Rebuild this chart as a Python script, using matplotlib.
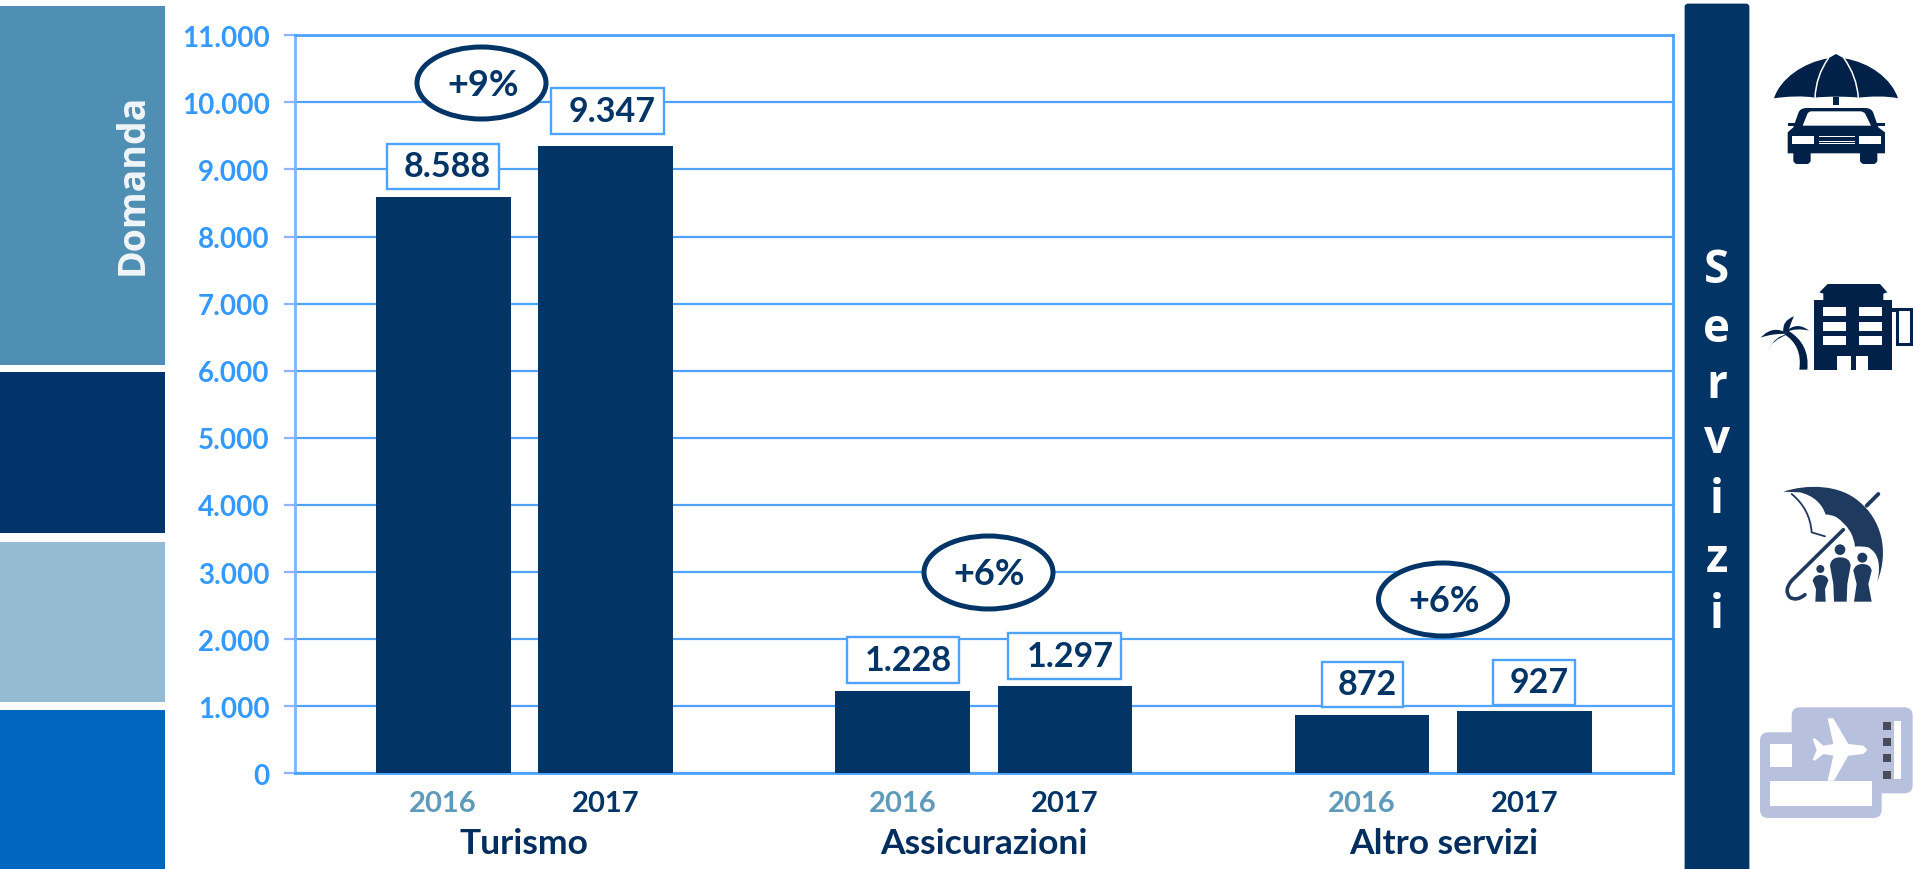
import numpy as np
import matplotlib
matplotlib.use('Agg')
import matplotlib.pyplot as plt
from matplotlib.path import Path
from matplotlib.patches import PathPatch, Rectangle, Ellipse, Circle, FancyBboxPatch
from matplotlib.ticker import FuncFormatter

categories = ['Turismo', 'Assicurazioni', 'Altro servizi']
years = ['2016', '2017']
values_2016 = [8588, 1228, 872]
values_2017 = [9347, 1297, 927]
growth_labels = ['+9%', '+6%', '+6%']
y_ticks = list(range(0, 12000, 1000))

NAVY = '#023466'
GRID_BLUE = '#4DA3FF'
TICK_BLUE = '#3399FF'
ICON_DARK = '#012148'
ICON_MID = '#1F3A5F'
ICON_LIGHT = '#B7C1DD'
W, H = 1913, 870

plt.rcParams['font.family'] = ['Lato', 'DejaVu Sans']
plt.rcParams['font.weight'] = 'bold'


def dots(n):
    return f'{int(n):,}'.replace(',', '.')


fig = plt.figure(figsize=(W / 100, H / 100), dpi=100, facecolor='white')

# Main chart, placed by pixel box of the plot area
left, right, top, bottom = 294.6, 1673, 36.3, 774.3
ax = fig.add_axes([left / W, 1 - bottom / H, (right - left) / W, (bottom - top) / H])
x = np.arange(len(categories))
offset, width = 0.1768, 0.2935
ax.bar(x - offset, values_2016, width, color=NAVY, zorder=3)
ax.bar(x + offset, values_2017, width, color=NAVY, zorder=3)
ax.set_xlim(-0.5, 2.5)
ax.set_ylim(0, 11000)
ax.set_yticks(y_ticks)
ax.yaxis.set_major_formatter(FuncFormatter(lambda v, _: dots(v)))
ax.grid(axis='y', color=GRID_BLUE, linewidth=1.6, zorder=1)
ax.tick_params(axis='y', colors='#8DB4FF', length=8, width=1.6, pad=10, labelsize=20, labelcolor=TICK_BLUE)
ax.tick_params(axis='x', length=0, pad=12, labelsize=21)
ax.set_xticks(np.concatenate([x - offset, x + offset]))
ax.set_xticklabels([years[0]] * 3 + [years[1]] * 3)
for i, lab in enumerate(ax.get_xticklabels()):
    lab.set_color('#5F9ABB' if i < 3 else NAVY)
for s in ax.spines.values():
    s.set_color(GRID_BLUE)
    s.set_linewidth(2)
ax.spines['left'].set_color('#7FB2FF')
for i, name in enumerate(categories):
    ax.text(i, -0.0945, name, transform=ax.get_xaxis_transform(), ha='center', va='center',
            fontsize=25.5, color='#012E5E')

# Everything around the chart is drawn in picture pixels
ov = fig.add_axes([0, 0, 1, 1], zorder=5)
ov.set_xlim(0, W)
ov.set_ylim(H, 0)
ov.set_axis_off()
ov.patch.set_alpha(0)

panels = [(7, 366, '#4F8FB3'), (373, 534, '#02336A'), (543, 703, '#94BBD1'), (711, 870, '#0067C0')]
for y0, y1, col in panels:
    ov.add_patch(Rectangle((0, y0), 165, y1 - y0, color=col, lw=0))
ov.text(133, 184, 'Domanda', rotation=90, ha='center', va='center', fontsize=27, color='#F0F5F8',
        family=['Open Sans', 'DejaVu Sans'])

ov.add_patch(FancyBboxPatch((1686, 6), 62, 870, boxstyle='round,pad=0,rounding_size=2', color=NAVY, lw=2))
for ch, base in zip('Servizi', [283, 342, 398, 453, 513, 572, 628]):
    ov.text(1716.7, base, ch, ha='center', va='baseline', fontsize=33, color='white',
            family=['Open Sans', 'DejaVu Sans'])

# Value labels: x0, x1, y0, y1 of box, then text centre
boxes = [(386.6, 499, 144.7, 190.3, 447, 167), (551, 664, 89, 135, 612, 112.5),
         (846.6, 959, 638, 684, 908, 661.5), (1008.4, 1121.4, 634, 680, 1070.5, 657.5),
         (1321.7, 1403.4, 662.7, 708, 1367.7, 685), (1492.8, 1574.6, 661, 706, 1539, 683.5)]
label_values = [values_2016[0], values_2017[0], values_2016[1], values_2017[1], values_2016[2], values_2017[2]]
for (bx0, bx1, by0, by1, tx, ty), v in zip(boxes, label_values):
    ov.add_patch(Rectangle((bx0, by0), bx1 - bx0, by1 - by0, facecolor='white', edgecolor=GRID_BLUE, lw=1.7))
    ov.text(tx, ty, dots(v), ha='center', va='center', fontsize=24.5, color=NAVY)

rings = [(481.5, 84, 133, 76, 483, 85), (988.5, 573.5, 133, 77, 989.5, 575), (1443, 600.5, 133, 77, 1444.6, 601.5)]
for (ex, ey, ew, eh, tx, ty), lab in zip(rings, growth_labels):
    ov.add_patch(Ellipse((ex, ey), ew - 4, eh - 4, facecolor='white', edgecolor=NAVY, lw=3.6))
    ov.text(tx, ty, lab, ha='center', va='center', fontsize=26, color=NAVY)


# Icons: shapes noted in crop units (3x, from x=1660)
def path(cmds, oy=0):
    verts, codes = [], []
    table = {'M': (Path.MOVETO, 1), 'L': (Path.LINETO, 1), 'Q': (Path.CURVE3, 2), 'C': (Path.CURVE4, 3)}
    for c in cmds:
        code, n = table[c[0]]
        pts = c[1:]
        for k in range(n):
            verts.append((1660 + pts[2 * k] / 3, oy + pts[2 * k + 1] / 3))
            codes.append(code)
    return Path(verts, codes)


def fill(cmds, col, oy=0, close=True):
    if close:
        cmds = cmds + [('L',) + tuple(cmds[0][1:3])]
    ov.add_patch(PathPatch(path(cmds, oy), facecolor=col, edgecolor='none', lw=0))


def stroke(cmds, col, lw, oy=0):
    ov.add_patch(PathPatch(path(cmds, oy), facecolor='none', edgecolor=col, lw=lw, capstyle='round'))


def box(x0, x1, y0, y1, col, oy=0):
    ov.add_patch(Rectangle((1660 + x0 / 3, oy + y0 / 3), (x1 - x0) / 3, (y1 - y0) / 3, color=col, lw=0))


# car under umbrella
fill([('M', 342, 298), ('C', 360, 240, 430, 190, 505, 178), ('L', 528, 165), ('L', 552, 178),
      ('C', 630, 190, 695, 240, 714, 298), ('C', 680, 290, 630, 292, 595, 296),
      ('C', 570, 292, 490, 292, 465, 296), ('C', 430, 290, 380, 292, 342, 298)], ICON_DARK)
stroke([('M', 505, 178), ('Q', 468, 230, 465, 296)], 'white', 1.1)
stroke([('M', 552, 178), ('Q', 590, 230, 595, 296)], 'white', 1.1)
box(520, 537, 295, 318, ICON_DARK)
fill([('M', 383, 400), ('L', 400, 385), ('L', 415, 342), ('Q', 420, 327, 440, 327), ('L', 615, 327),
      ('Q', 635, 327, 640, 342), ('L', 655, 385), ('L', 675, 400), ('L', 675, 463), ('L', 652, 463),
      ('L', 652, 485), ('Q', 650, 495, 640, 495), ('L', 612, 495), ('Q', 602, 495, 600, 485), ('L', 600, 463),
      ('L', 452, 463), ('L', 452, 485), ('Q', 450, 495, 440, 495), ('L', 412, 495), ('Q', 402, 495, 400, 485),
      ('L', 400, 463), ('L', 383, 463)], ICON_DARK)
box(383, 675, 371, 382, ICON_DARK)
fill([('M', 428, 380), ('L', 442, 345), ('Q', 445, 337, 455, 337), ('L', 600, 337), ('Q', 612, 337, 616, 345),
      ('L', 633, 380)], 'white')
box(396, 462, 412, 435, 'white')
box(597, 663, 412, 435, 'white')
for gy in (413, 420, 427, 433):
    box(476, 586, gy - 1, gy + 1, 'white')

# hotel and palm
box(462, 695, 903, 1112, ICON_DARK)
fill([('M', 478, 880), ('L', 503, 855), ('L', 660, 855), ('L', 682, 880), ('L', 670, 884), ('L', 670, 905),
      ('L', 490, 905), ('L', 490, 884)], ICON_DARK)
for wy0, wy1 in ((925, 950), (970, 995), (1012, 1037)):
    box(489, 559, wy0, wy1, 'white')
    box(597, 667, wy0, wy1, 'white')
box(532, 574, 1072, 1113, 'white')
box(588, 625, 1072, 1113, 'white')
box(695, 712, 928, 938, ICON_DARK)
ov.add_patch(Rectangle((1660 + 712 / 3, 930 / 3), 41 / 3, 105 / 3, facecolor='white', edgecolor=ICON_DARK, lw=2.2))
fill([('M', 372, 1005), ('Q', 428, 1040, 418, 1112), ('L', 442, 1112), ('Q', 450, 1035, 385, 995)], ICON_DARK)
fill([('M', 385, 1005), ('Q', 340, 975, 302, 1016), ('Q', 340, 1002, 385, 1005)], ICON_DARK)
fill([('M', 385, 1005), ('Q', 345, 1010, 325, 1052), ('Q', 335, 1025, 385, 1005)], ICON_DARK)
fill([('M', 370, 1000), ('Q', 365, 965, 402, 952), ('Q', 390, 975, 385, 1000)], ICON_DARK)
fill([('M', 375, 1000), ('Q', 410, 965, 447, 995), ('Q', 410, 985, 375, 1000)], ICON_DARK)

# family under umbrella
OY = 450
fill([('M', 370, 128), ('C', 440, 105, 540, 105, 600, 160), ('C', 660, 210, 690, 300, 652, 398),
      ('Q', 670, 320, 625, 295), ('Q', 600, 290, 585, 293), ('Q', 580, 240, 530, 205), ('Q', 510, 195, 497, 197),
      ('Q', 480, 145, 420, 130)], ICON_MID, OY)
stroke([('M', 395, 135), ('Q', 450, 180, 455, 250), ('L', 495, 262)], ICON_MID, 1.3, OY)
stroke([('M', 550, 242), ('L', 395, 395), ('Q', 370, 425, 390, 445), ('Q', 410, 458, 435, 437)], ICON_MID, 2.6, OY)
stroke([('M', 620, 170), ('L', 655, 135)], ICON_MID, 2.8, OY)
for cx, cy, r in ((540, 302, 16), (607, 326, 15), (481, 360, 12)):
    ov.add_patch(Circle((1660 + cx / 3, OY + cy / 3), r / 3, color=ICON_MID, lw=0))
fill([('M', 510, 350), ('Q', 512, 325, 540, 325), ('Q', 570, 325, 572, 350), ('L', 562, 405), ('L', 560, 458),
      ('L', 522, 458), ('L', 520, 405)], ICON_MID, OY)
fill([('M', 580, 365), ('Q', 585, 345, 607, 345), ('Q', 632, 345, 635, 365), ('L', 625, 405), ('L', 635, 458),
      ('L', 582, 458), ('L', 590, 405)], ICON_MID, OY)
fill([('M', 458, 395), ('Q', 462, 378, 481, 378), ('Q', 502, 378, 505, 395), ('L', 495, 420), ('L', 497, 458),
      ('L', 466, 458), ('L', 468, 420)], ICON_MID, OY)

# plane tickets
for tx0, tx1, ty0, ty1 in ((300, 665, 850, 1107), (395, 758, 775, 1033)):
    ov.add_patch(FancyBboxPatch((1660 + (tx0 + 25) / 3, OY + (ty0 + 25) / 3), (tx1 - tx0 - 50) / 3, (ty1 - ty0 - 50) / 3,
                                boxstyle='round,pad=%f,rounding_size=%f' % (25 / 3, 25 / 3), color=ICON_LIGHT, lw=0))
box(330, 395, 885, 955, 'white', OY)
box(330, 635, 997, 1072, 'white', OY)
fill([('M', 503, 808), ('L', 520, 808), ('L', 565, 885), ('L', 610, 890), ('L', 622, 903), ('L', 610, 915),
      ('L', 565, 920), ('L', 522, 995), ('L', 503, 995), ('L', 520, 920), ('L', 490, 915), ('L', 465, 935),
      ('L', 458, 932), ('L', 470, 903), ('L', 458, 870), ('L', 465, 868), ('L', 490, 890), ('L', 520, 885)], 'white', OY)
for dy in (818, 868, 915, 965):
    box(670, 692, dy, dy + 24, '#4A4A5A', OY)
box(702, 722, 817, 990, 'white', OY)

fig.savefig('out.png', dpi=100)
